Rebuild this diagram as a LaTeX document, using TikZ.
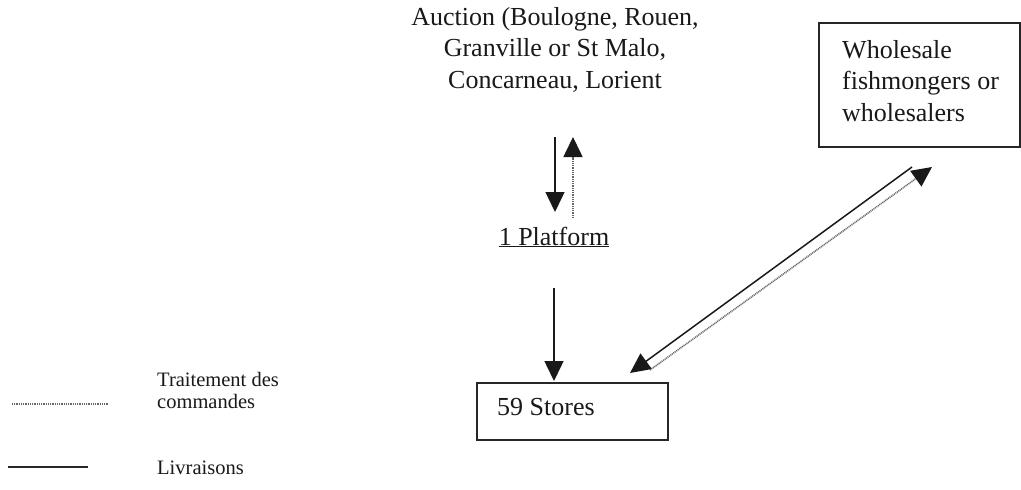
\documentclass[tikz,border=0pt]{standalone}
\usepackage{fontspec}
\setmainfont{Liberation Serif}
\usetikzlibrary{arrows.meta}
\tikzset{
  main/.style={font=\fontsize{26}{31.5}\selectfont, inner sep=0pt, text=black!90},
  small/.style={font=\fontsize{20.5}{22}\selectfont, inner sep=0pt, text=black!90},
  boxed/.style={draw=black!85, line width=1.5pt},
  deliv/.style={draw=black!90, line width=1.5pt, -{Triangle[length=20pt,width=19pt]}},
  order/.style={draw=black!60, line width=1.6pt, dash pattern=on 1pt off 0.8pt, -{Triangle[length=20pt,width=19pt,color=black!90,fill=black!90]}},
  legdeliv/.style={draw=black!85, line width=1.5pt},
  legorder/.style={draw=black!60, line width=1.6pt, dash pattern=on 1pt off 0.8pt},
}
\begin{document}
\begin{tikzpicture}[x=1pt,y=-1pt]
\useasboundingbox (0,0) rectangle (1021,490);
% auction text
\node[main, anchor=north, align=center] (auction) at (555,7)
  {Auction (Boulogne, Rouen,\\Granville or St Malo,\\Concarneau, Lorient};
% platform
\node[main, anchor=base] (platform) at (554,245) {\underline{1 Platform}};
% stores box
\draw[boxed] (477,383) rectangle (668,440);
\node[main, anchor=base west] (stores) at (497,415) {59 Stores};
% wholesale box
\draw[boxed] (819,23) rectangle (1020,147);
\node[main, anchor=north west, align=left] (whole) at (842,40)
  {Wholesale\\fishmongers or\\wholesalers};
% connector end points
\coordinate (aucS) at (555,137);
\coordinate (platN) at (555,212);
\coordinate (platNo) at (573,218);
\coordinate (aucSo) at (573,137);
\coordinate (platS) at (554,288);
\coordinate (storN) at (554,381);
\coordinate (wsA) at (912,167);
\coordinate (stA) at (630,373);
\coordinate (stB) at (650,370);
\coordinate (wsB) at (932,167);
% connectors
\draw[deliv] (aucS) -- (platN);
\draw[order] (platNo) -- (aucSo);
\draw[deliv] (platS) -- (storN);
\draw[deliv] (wsA) -- (stA);
\draw[order] (stB) -- (wsB);
% legend
\coordinate (l1a) at (12,404);
\coordinate (l1b) at (108,404);
\coordinate (l2a) at (8,467);
\coordinate (l2b) at (88,467);
\draw[legorder] (l1a) -- (l1b);
\draw[legdeliv] (l2a) -- (l2b);
\node[small, anchor=base west, align=left] (leg1) at (157,408) {Traitement des\\commandes};
\node[small, anchor=base west] (leg2) at (157,474) {Livraisons};
\end{tikzpicture}
\end{document}
